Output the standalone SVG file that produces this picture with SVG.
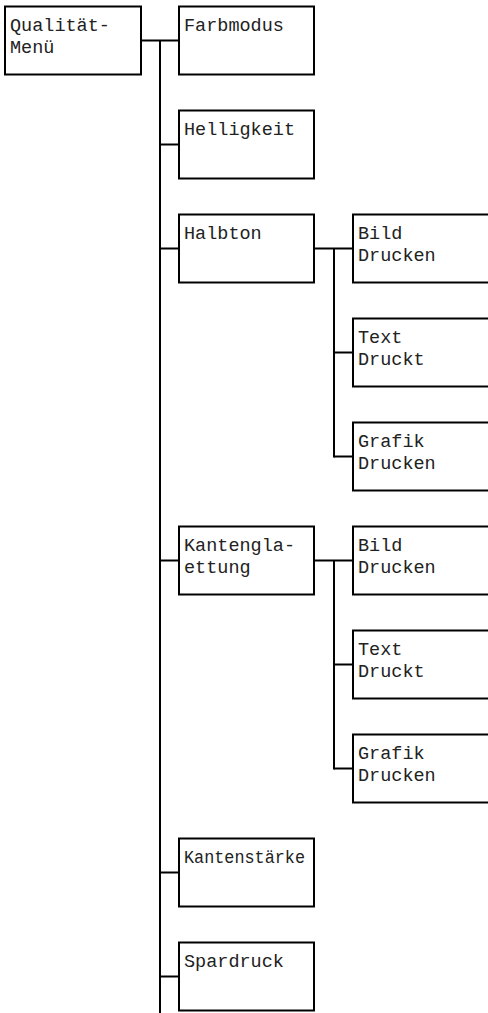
<svg xmlns="http://www.w3.org/2000/svg" width="488" height="1013" viewBox="0 0 488 1013">
<style>
rect{fill:#fff;stroke:#000;stroke-width:2}
line{stroke:#000;stroke-width:2}
text{font-family:"Liberation Mono","DejaVu Sans Mono",monospace;font-size:18.5px;fill:#222}
</style>
<rect x="0" y="0" width="488" height="1013" style="stroke:none"/>
<g id="connectors">
<line x1="141" y1="40.5" x2="179" y2="40.5"/>
<line x1="160" y1="40.5" x2="160" y2="1013"/>
<line x1="160" y1="144.5" x2="179" y2="144.5"/>
<line x1="160" y1="248.5" x2="179" y2="248.5"/>
<line x1="160" y1="560.5" x2="179" y2="560.5"/>
<line x1="160" y1="872.5" x2="179" y2="872.5"/>
<line x1="160" y1="976.5" x2="179" y2="976.5"/>
<line x1="314" y1="248.5" x2="353" y2="248.5"/>
<line x1="334" y1="248.5" x2="334" y2="457.5"/>
<line x1="334" y1="352.5" x2="353" y2="352.5"/>
<line x1="334" y1="456.5" x2="353" y2="456.5"/>
<line x1="314" y1="560.5" x2="353" y2="560.5"/>
<line x1="334" y1="560.5" x2="334" y2="769.5"/>
<line x1="334" y1="664.5" x2="353" y2="664.5"/>
<line x1="334" y1="768.5" x2="353" y2="768.5"/>
</g>
<g id="qualitaet"><rect x="5" y="6.5" width="136" height="68"/><text x="10" y="30.5">Qualität-</text><text x="10" y="52.5">Menü</text></g>
<g id="farbmodus"><rect x="179" y="6.5" width="135" height="68"/><text x="184" y="30.5">Farbmodus</text></g>
<g id="helligkeit"><rect x="179" y="110.5" width="135" height="68"/><text x="184" y="134.5">Helligkeit</text></g>
<g id="halbton"><rect x="179" y="214.5" width="135" height="68"/><text x="184" y="238.5">Halbton</text></g>
<g id="halbton-bild"><rect x="353" y="214.5" width="150" height="68"/><text x="358" y="238.5">Bild</text><text x="358" y="260.5">Drucken</text></g>
<g id="halbton-text"><rect x="353" y="318.5" width="150" height="68"/><text x="358" y="342.5">Text</text><text x="358" y="364.5">Druckt</text></g>
<g id="halbton-grafik"><rect x="353" y="422.5" width="150" height="68"/><text x="358" y="446.5">Grafik</text><text x="358" y="468.5">Drucken</text></g>
<g id="kantenglaettung"><rect x="179" y="526.5" width="135" height="68"/><text x="184" y="550.5">Kantengla-</text><text x="184" y="572.5">ettung</text></g>
<g id="kg-bild"><rect x="353" y="526.5" width="150" height="68"/><text x="358" y="550.5">Bild</text><text x="358" y="572.5">Drucken</text></g>
<g id="kg-text"><rect x="353" y="630.5" width="150" height="68"/><text x="358" y="654.5">Text</text><text x="358" y="676.5">Druckt</text></g>
<g id="kg-grafik"><rect x="353" y="734.5" width="150" height="68"/><text x="358" y="758.5">Grafik</text><text x="358" y="780.5">Drucken</text></g>
<g id="kantenstaerke"><rect x="179" y="838.5" width="135" height="68"/><text x="184" y="862.5" textLength="121" lengthAdjust="spacingAndGlyphs">Kantenstärke</text></g>
<g id="spardruck"><rect x="179" y="942.5" width="135" height="68"/><text x="184" y="966.5">Spardruck</text></g>
</svg>
